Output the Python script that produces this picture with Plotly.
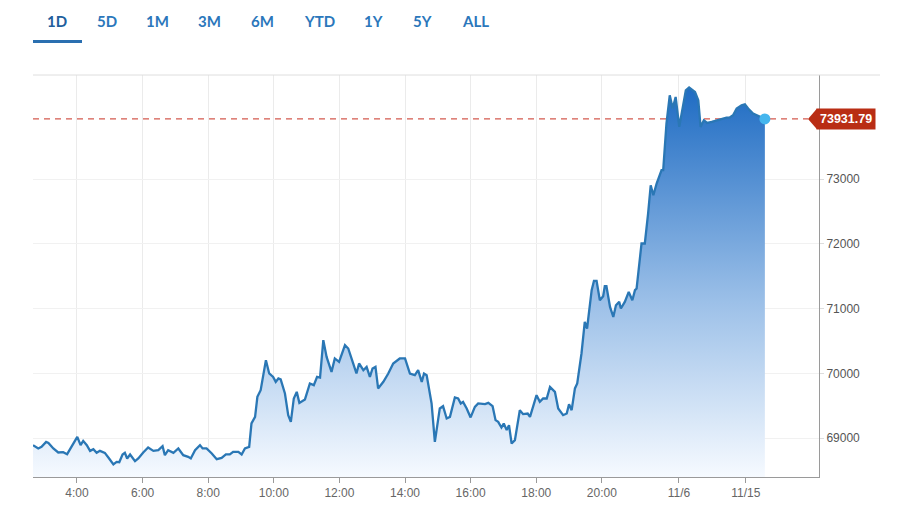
import plotly.graph_objects as go

# time of day in hours (values past 24 = next day)
times = [2.66, 2.82, 2.92, 3.06, 3.13, 3.28, 3.43, 3.58, 3.70, 3.84,
         4.01, 4.11, 4.19, 4.30, 4.40, 4.50, 4.60, 4.70, 4.85, 4.98,
         5.11, 5.21, 5.29, 5.39, 5.46, 5.53, 5.62, 5.77, 5.87, 6.02,
         6.17, 6.33, 6.48, 6.61, 6.68, 6.78, 6.94, 7.09, 7.24, 7.39,
         7.47, 7.60, 7.75, 7.83, 7.95, 8.11, 8.26, 8.41, 8.54, 8.66,
         8.76, 8.92, 9.02, 9.12, 9.25, 9.32, 9.43, 9.50, 9.60, 9.76,
         9.86, 9.98, 10.06, 10.14, 10.21, 10.34, 10.44, 10.52, 10.61, 10.70,
         10.78, 10.95, 11.10, 11.22, 11.32, 11.41, 11.51, 11.61, 11.76, 11.86,
         11.99, 12.17, 12.27, 12.42, 12.52, 12.60, 12.73, 12.83, 12.93, 13.01,
         13.10, 13.18, 13.34, 13.49, 13.64, 13.84, 14.00, 14.15, 14.30, 14.40,
         14.51, 14.58, 14.66, 14.81, 14.91, 15.06, 15.16, 15.27, 15.37, 15.52,
         15.62, 15.70, 15.77, 15.88, 16.00, 16.13, 16.23, 16.44, 16.54, 16.67,
         16.76, 16.84, 16.94, 17.01, 17.10, 17.17, 17.25, 17.35, 17.50, 17.60,
         17.74, 17.81, 17.91, 18.01, 18.11, 18.21, 18.32, 18.42, 18.57, 18.67,
         18.82, 18.93, 19.00, 19.08, 19.18, 19.25, 19.38, 19.48, 19.55, 19.69,
         19.76, 19.84, 19.94, 20.04, 20.09, 20.14, 20.25, 20.35, 20.43, 20.53,
         20.58, 20.70, 20.82, 20.93, 21.01, 21.06, 21.21, 21.31, 21.41, 21.49,
         21.57, 21.67, 21.82, 21.87, 21.97, 22.07, 22.16, 22.25, 22.36, 22.46,
         22.56, 22.66, 22.84, 22.94, 23.01, 23.11, 23.21, 23.35, 23.50, 23.65,
         23.80, 23.90, 24.00, 24.11, 24.26, 24.36, 24.46, 24.61, 24.72, 24.82,
         24.97]

prices = [68892, 68841, 68866, 68943, 68927, 68841, 68779, 68784, 68753, 68866,
          69020, 68892, 68958, 68892, 68804, 68830, 68773, 68804, 68773, 68686,
          68594, 68634, 68629, 68748, 68773, 68686, 68748, 68645, 68686, 68779,
          68856, 68804, 68815, 68876, 68737, 68815, 68773, 68841, 68737, 68711,
          68686, 68815, 68892, 68841, 68841, 68764, 68676, 68696, 68748, 68748,
          68788, 68788, 68748, 68841, 68866, 69227, 69329, 69638, 69741, 70205,
          69999, 69947, 69870, 69922, 69907, 69690, 69355, 69252, 69613, 69715,
          69545, 69598, 69845, 69819, 69947, 69937, 70514, 70256, 70024, 70231,
          70178, 70436, 70385, 70154, 69999, 70154, 70050, 70101, 69947, 70076,
          70101, 69768, 69870, 69999, 70154, 70231, 70231, 69999, 69973, 70050,
          69870, 69999, 69973, 69536, 68943, 69459, 69494, 69304, 69329, 69629,
          69613, 69536, 69561, 69459, 69320, 69483, 69536, 69525, 69545, 69494,
          69278, 69252, 69165, 69227, 69124, 69201, 68918, 68969, 69432, 69371,
          69381, 69329, 69510, 69664, 69561, 69613, 69613, 69792, 69715, 69459,
          69355, 69381, 69525, 69432, 69768, 69845, 70308, 70796, 70694, 71286,
          71429, 71429, 71131, 71193, 71347, 71347, 71028, 70873, 71054, 71105,
          71003, 71105, 71259, 71131, 71286, 71312, 72007, 72007, 72470, 72907,
          72753, 72934, 73139, 73139, 73860, 74297, 74092, 74271, 73808, 74066,
          74374, 74416, 74348, 74220, 73808, 73911, 73870, 73885, 73911, 73937,
          73953, 73953, 73988, 74092, 74143, 74158, 74092, 74015, 73988, 73962,
          73931.79]

last_price = 73931.79
x_tick_vals = [4, 6, 8, 10, 12, 14, 16, 18, 20, 22.35, 24.39]
x_tick_text = ["4:00", "6:00", "8:00", "10:00", "12:00", "14:00", "16:00",
               "18:00", "20:00", "11/6", "11/15"]
y_tick_vals = [69000, 70000, 71000, 72000, 73000]
tabs = ["1D", "5D", "1M", "3M", "6M", "YTD", "1Y", "5Y", "ALL"]

W, H = 907, 524
ML, MR, MT, MB = 33, 88, 75, 47
PW, PH = W - ML - MR, H - MT - MB

def px_x(p):
    return (p - ML) / PW

def px_y(p):
    return (H - MB - p) / PH

fig = go.Figure()

fig.add_trace(go.Scatter(
    x=times, y=prices, mode="lines",
    line=dict(color="#2a77b5", width=2.3),
    fill="tozeroy",
    fillgradient=dict(type="vertical", start=68400, stop=74400,
                      colorscale=[[0, "#f6faff"], [0.45, "#9cc0e8"], [1, "#1f6cc3"]]),
    hoverinfo="skip", showlegend=False,
))

fig.add_trace(go.Scatter(
    x=[times[-1]], y=[prices[-1]], mode="markers",
    marker=dict(color="#45b6ee", size=11),
    hoverinfo="skip", showlegend=False,
))

fig.update_layout(
    width=W, height=H,
    margin=dict(l=ML, r=MR, t=MT, b=MB),
    paper_bgcolor="white", plot_bgcolor="white",
    font=dict(family="Liberation Sans, Arial", size=12, color="#555555"),
    xaxis=dict(range=[2.66, 26.62], tickvals=x_tick_vals, ticktext=x_tick_text,
               showgrid=True, gridcolor="#ebebeb", gridwidth=1,
               showline=True, linecolor="#9a9a9a", linewidth=1,
               ticks="outside", ticklen=5, tickcolor="#9a9a9a",
               tickfont=dict(size=12, color="#666666"), zeroline=False),
    yaxis=dict(range=[68400, 74610], side="right", tickvals=y_tick_vals,
               ticktext=[str(v) for v in y_tick_vals],
               showgrid=True, gridcolor="#f1f1f1", gridwidth=1,
               showline=True, linecolor="#9a9a9a", linewidth=1,
               ticks="outside", ticklen=4, tickcolor="#dddddd",
               tickfont=dict(size=12, color="#555555"), zeroline=False),
)

shapes = []
shapes.append(dict(type="line", xref="paper", yref="paper", x0=0, x1=px_x(880),
                   y0=1, y1=1, line=dict(color="#dedede", width=1)))
shapes.append(dict(type="line", xref="paper", yref="y", x0=0, x1=px_x(808),
                   y0=last_price, y1=last_price, layer="below",
                   line=dict(color="#d35a4f", width=1.2, dash="6px,5px")))
shapes.append(dict(type="path", xref="paper", yref="y",
                   path=f"M {px_x(808)} {last_price} L {px_x(817)} {last_price + 160} "
                        f"L {px_x(817)} {last_price - 160} Z",
                   fillcolor="#b92d14", line=dict(width=0)))
shapes.append(dict(type="line", xref="paper", yref="paper", x0=px_x(33), x1=px_x(82),
                   y0=px_y(41.5), y1=px_y(41.5), line=dict(color="#2a6fb0", width=3)))
fig.update_layout(shapes=shapes)

annotations = []
annotations.append(dict(xref="paper", yref="y", x=px_x(816), y=last_price,
                        xanchor="left", yanchor="middle", showarrow=False,
                        text=f"<b>{last_price:.2f}</b>", bgcolor="#b92d14",
                        font=dict(family="Liberation Sans, Arial", size=12.5, color="white"),
                        borderpad=3))
tab_x = [57, 107, 157, 209, 262, 319, 373, 422, 475]
for t, cx in zip(tabs, tab_x):
    annotations.append(dict(xref="paper", yref="paper", x=px_x(cx), y=px_y(21),
                            xanchor="center", yanchor="middle", showarrow=False,
                            text=f"<b>{t}</b>",
                            font=dict(family="Lato, Open Sans", size=15,
                                      color="#215e9c" if t == "1D" else "#2b77bb")))
fig.update_layout(annotations=annotations)

fig.write_html("out.html")
